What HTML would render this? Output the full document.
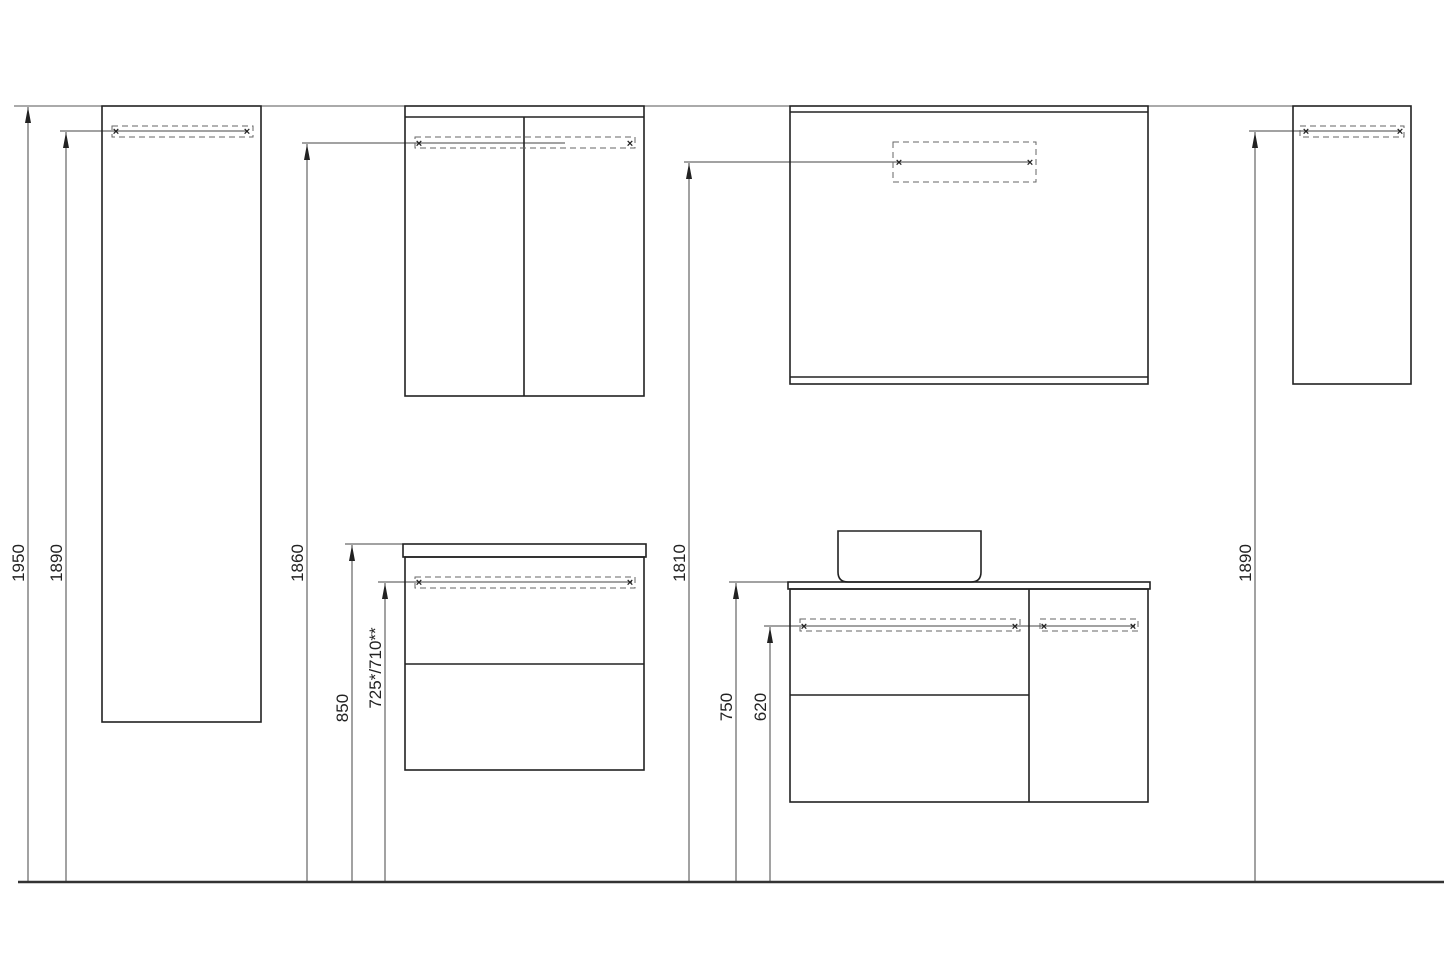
<!DOCTYPE html>
<html><head><meta charset="utf-8"><style>html,body{margin:0;padding:0;background:#fff}svg{display:block}</style></head>
<body>
<svg width="1444" height="955" viewBox="0 0 1444 955" xmlns="http://www.w3.org/2000/svg" font-family="Liberation Sans, sans-serif" font-size="17" fill="none">
<defs>
<marker id="a" viewBox="0 0 16 6" refX="16" refY="3" markerWidth="16" markerHeight="6" orient="auto" markerUnits="userSpaceOnUse"><path d="M0,0 L16,3 L0,6 Z" fill="#222"/></marker>
</defs>
<g stroke="#555" stroke-width="1">
<line x1="14" y1="106" x2="1410" y2="106"/>
</g>
<line x1="18" y1="882" x2="1444" y2="882" stroke="#333" stroke-width="2.5"/>
<g stroke="#444" stroke-width="1">
<line x1="28" y1="881" x2="28" y2="107" marker-end="url(#a)"/>
<line x1="66" y1="881" x2="66" y2="132" marker-end="url(#a)"/>
<line x1="60" y1="131" x2="116" y2="131"/>
<line x1="307" y1="881" x2="307" y2="144" marker-end="url(#a)"/>
<line x1="302" y1="143" x2="418" y2="143"/>
<line x1="689" y1="881" x2="689" y2="163" marker-end="url(#a)"/>
<line x1="684" y1="162" x2="1030" y2="162"/>
<line x1="1255" y1="881" x2="1255" y2="132" marker-end="url(#a)"/>
<line x1="1249" y1="131" x2="1305" y2="131"/>
<line x1="352" y1="881" x2="352" y2="545" marker-end="url(#a)"/>
<line x1="345" y1="544" x2="403" y2="544"/>
<line x1="385" y1="881" x2="385" y2="583" marker-end="url(#a)"/>
<line x1="378" y1="582" x2="632" y2="582"/>
<line x1="736" y1="881" x2="736" y2="583" marker-end="url(#a)"/>
<line x1="729" y1="582" x2="788" y2="582"/>
<line x1="770" y1="881" x2="770" y2="627" marker-end="url(#a)"/>
<line x1="764" y1="626" x2="1135" y2="626"/>
<line x1="115" y1="131" x2="248" y2="131"/>
<line x1="418" y1="143" x2="565" y2="143"/>
<line x1="1304" y1="131" x2="1401" y2="131"/>
</g>
<g stroke="#222" stroke-width="1.6">
<rect x="102" y="106" width="159" height="616"/>
<rect x="405" y="106" width="239" height="290"/>
<line x1="405" y1="117" x2="644" y2="117"/>
<line x1="524" y1="117" x2="524" y2="396"/>
<rect x="790" y="106" width="358" height="278"/>
<line x1="790" y1="112" x2="1148" y2="112"/>
<line x1="790" y1="377" x2="1148" y2="377"/>
<rect x="1293" y="106" width="118" height="278"/>
<rect x="403" y="544" width="243" height="13"/>
<rect x="405" y="557" width="239" height="213"/>
<line x1="405" y1="664" x2="644" y2="664"/>
<path d="M838,531 H981 V572 Q981,582 971,582 H848 Q838,582 838,572 Z"/>
<rect x="788" y="582" width="362" height="7"/>
<rect x="790" y="589" width="358" height="213"/>
<line x1="1029" y1="589" x2="1029" y2="802"/>
<line x1="790" y1="695" x2="1029" y2="695"/>
</g>
<g stroke="#666" stroke-width="1" stroke-dasharray="6,4">
<rect x="112" y="126" width="141" height="11"/>
<rect x="415" y="137" width="220" height="11"/>
<rect x="893" y="142" width="143" height="40"/>
<rect x="1300" y="126" width="104" height="11"/>
<rect x="415" y="577" width="220" height="11"/>
<rect x="800" y="619" width="220" height="12"/>
<rect x="1040" y="619" width="98" height="12"/>
</g>
<g fill="#222" font-size="11" font-weight="bold" text-anchor="middle">
<text x="116" y="135">×</text><text x="247" y="135">×</text>
<text x="419" y="147">×</text><text x="630" y="147">×</text>
<text x="899" y="166">×</text><text x="1030" y="166">×</text>
<text x="1306" y="135">×</text><text x="1400" y="135">×</text>
<text x="419" y="586">×</text><text x="630" y="586">×</text>
<text x="804" y="630">×</text><text x="1015" y="630">×</text>
<text x="1044" y="630">×</text><text x="1133" y="630">×</text>
</g>
<g fill="#222" text-anchor="middle">
<text transform="translate(24,563) rotate(-90)">1950</text>
<text transform="translate(62,563) rotate(-90)">1890</text>
<text transform="translate(303,563) rotate(-90)">1860</text>
<text transform="translate(685,563) rotate(-90)">1810</text>
<text transform="translate(1251,563) rotate(-90)">1890</text>
<text transform="translate(348,708) rotate(-90)">850</text>
<text transform="translate(381,668) rotate(-90)">725*/710**</text>
<text transform="translate(732,707) rotate(-90)">750</text>
<text transform="translate(766,707) rotate(-90)">620</text>
</g>
</svg>
</body></html>
